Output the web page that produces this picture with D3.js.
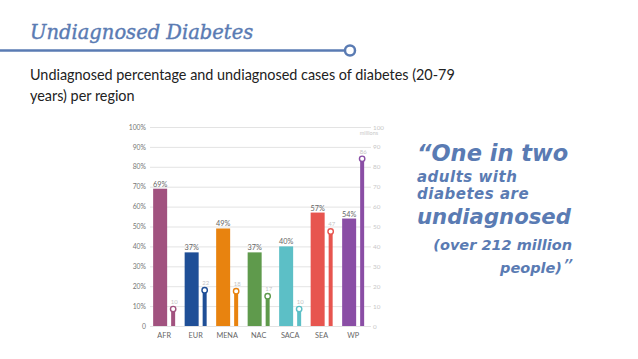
<!DOCTYPE html>
<html><head><meta charset="utf-8">
<script src="https://cdn.jsdelivr.net/npm/d3@7"></script>
<style>body{margin:0;background:#fff}svg{display:block}</style>
</head><body>
<svg id="c" width="638" height="359"></svg>
<script>
const regions = ["AFR","EUR","MENA","NAC","SACA","SEA","WP"];
const undiagnosedPct = [69,37,49,37,40,57,54];
const casesMillions = [8.5,18,17.5,15,8.5,47.5,84];
const casesLabels = ["10","22","18","17","10","47","86"];
const colors = ["#a1527f","#1f4f97","#e8830f","#5f9a4c","#5cbfc6","#e7554f","#8a4ea5"];
const leftTicks = [0,10,20,30,40,50,60,70,80,90,100];
const rightTicks = [0,10,20,30,40,50,60,70,80,90,100];

const svg = d3.select("#c");
const blue = "#5a7bb3";

// header
svg.append("text").attr("x",30).attr("y",39).attr("fill",blue)
  .attr("font-family","DejaVu Serif").attr("font-style","italic").attr("font-weight","normal")
  .attr("stroke",blue).attr("stroke-width",0.4)
  .attr("font-size",19.5).text("Undiagnosed Diabetes");
svg.append("line").attr("x1",0).attr("x2",345).attr("y1",50.5).attr("y2",50.5)
  .attr("stroke",blue).attr("stroke-width",2.5);
svg.append("circle").attr("cx",350).attr("cy",50.5).attr("r",5)
  .attr("fill","#fff").attr("stroke",blue).attr("stroke-width",2.5);

const sub = svg.append("text").attr("font-family","Lato").attr("font-size",14.4).attr("fill","#222");
sub.append("tspan").attr("x",30).attr("y",80).text("Undiagnosed percentage and undiagnosed cases of diabetes (20-79");
sub.append("tspan").attr("x",30).attr("y",101).text("years) per region");

// quote
const q = svg.append("g").attr("fill",blue).attr("font-family","DejaVu Sans").attr("font-style","italic").attr("font-weight","bold");
q.append("text").attr("x",417).attr("y",161).attr("font-size",22.5).text("\u201COne in two");
q.append("text").attr("x",417).attr("y",182).attr("font-size",15).attr("letter-spacing",0.5).text("adults with");
q.append("text").attr("x",417).attr("y",199).attr("font-size",15).attr("letter-spacing",0.5).text("diabetes are");
q.append("text").attr("x",417).attr("y",224).attr("font-size",21.2).text("undiagnosed");
q.append("text").attr("x",572).attr("y",250).attr("text-anchor","end").attr("font-size",14.5).text("(over 212 million");
q.append("text").attr("x",562).attr("y",273).attr("text-anchor","end").attr("font-size",14.5).text("people)");
q.append("text").attr("x",562).attr("y",273).attr("font-size",20).attr("font-weight","normal").text("\u201D");

// chart
const y = d3.scaleLinear().domain([0,100]).range([326,127]);
const x = d3.scaleBand().domain(regions).range([148.4,368.9]).paddingInner(0).paddingOuter(0);
const bigW = 14, smallW = 4, gap = 4;
const off = (x.bandwidth() - (bigW+gap+smallW))/2;

const grid = svg.append("g");
grid.selectAll("line").data(leftTicks).join("line")
  .attr("x1",150).attr("x2",371).attr("y1",d=>y(d)+0.5).attr("y2",d=>y(d)+0.5)
  .attr("stroke","#dcdcdc").attr("stroke-width",0.8);

const yl = d3.axisLeft(y).tickValues(leftTicks).tickSize(0).tickPadding(0).tickFormat(d=>d===0?"0":d+"%");
svg.append("g").attr("transform","translate(146,0)").call(yl)
  .call(g=>g.select(".domain").remove())
  .selectAll("text").attr("font-family","Lato").attr("font-size",6.8).attr("fill","#777");

const yr = d3.scaleLinear().domain([0,100]).range([326,127]);
const yra = d3.axisRight(yr).tickValues(rightTicks).tickSize(0).tickPadding(0);
svg.append("g").attr("transform","translate(373,0)").call(yra)
  .call(g=>g.select(".domain").remove())
  .selectAll("text").attr("font-family","Lato").attr("font-size",6.3).attr("fill","#c8c8c8");
svg.append("text").attr("x",369).attr("y",135).attr("text-anchor","middle")
  .attr("font-family","Lato").attr("font-size",5.5).attr("fill","#c8c8c8").text("millions");

const groups = svg.append("g").selectAll("g").data(regions).join("g")
  .attr("transform",d=>`translate(${x(d)+off},0)`);

groups.append("rect").attr("x",0).attr("width",bigW)
  .attr("y",(d,i)=>y(undiagnosedPct[i])).attr("height",(d,i)=>y(0)-y(undiagnosedPct[i]))
  .attr("fill",(d,i)=>colors[i]);
groups.append("text").attr("x",bigW/2).attr("y",(d,i)=>y(undiagnosedPct[i])-2)
  .attr("text-anchor","middle").attr("font-family","Lato").attr("font-size",7.3).attr("fill","#666")
  .text((d,i)=>undiagnosedPct[i]+"%");

groups.append("rect").attr("x",bigW+gap).attr("width",smallW)
  .attr("y",(d,i)=>yr(casesMillions[i])).attr("height",(d,i)=>yr(0)-yr(casesMillions[i]))
  .attr("fill",(d,i)=>colors[i]);
groups.append("circle").attr("cx",bigW+gap+smallW/2).attr("cy",(d,i)=>yr(casesMillions[i]))
  .attr("r",2.7).attr("fill","#fff").attr("stroke",(d,i)=>colors[i]).attr("stroke-width",1.4);
groups.append("text").attr("x",bigW+gap+smallW/2+1).attr("y",(d,i)=>yr(casesMillions[i])-5)
  .attr("text-anchor","middle").attr("font-family","Lato").attr("font-size",6).attr("fill","#c4c4c4")
  .text((d,i)=>casesLabels[i]);

groups.append("text").attr("x",(bigW+gap+smallW)/2).attr("y",338)
  .attr("text-anchor","middle").attr("font-family","Lato").attr("font-size",7.3).attr("fill","#666")
  .text(d=>d);
</script>
</body></html>
